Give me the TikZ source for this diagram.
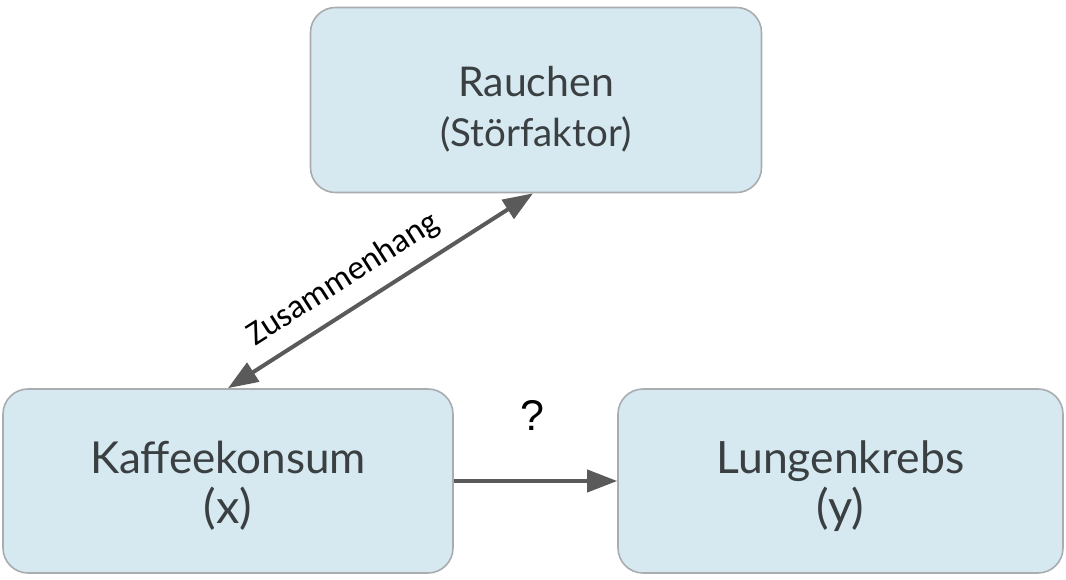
\documentclass[tikz,border=0pt]{standalone}
\usepackage{fontspec}
\setmainfont{Lato}
\newfontfamily\labelfont{Carlito}
\newfontfamily\qfont{Liberation Sans}
\usetikzlibrary{arrows.meta}
\definecolor{boxfill}{HTML}{D6E8F0}
\definecolor{boxdraw}{HTML}{A9ADAF}
\definecolor{txtcol}{HTML}{3A3F42}
\definecolor{arrcol}{HTML}{5A5A5A}
\tikzset{
  box/.style={draw=boxdraw, line width=1.6pt, fill=boxfill, rounded corners=25pt, inner sep=0pt},
  boxtext/.style={text=txtcol, align=center, inner sep=0pt, anchor=north, font=\fontsize{44}{50}\selectfont},
  conn/.style={draw=arrcol, line width=4pt, -{Triangle[length=30pt,width=22pt]}, shorten >=0pt},
  biconn/.style={draw=arrcol, line width=4pt, {Triangle[length=30pt,width=22pt]}-{Triangle[length=30pt,width=22pt]}},
}
\newcommand\lineA[2]{{\fontsize{#1}{50}\selectfont #2}}
\begin{document}
\begin{tikzpicture}[x=1pt,y=-1pt]
\useasboundingbox (0,0) rectangle (1066,580);
\node[box, minimum width=451pt, minimum height=185pt] (r) at (536,100) {};
\node[box, minimum width=450pt, minimum height=184pt] (k) at (228,481) {};
\node[box, minimum width=445pt, minimum height=184pt] (l) at (840.5,481) {};
\node[boxtext] (rt) at (536,66) {\lineA{41}{Rauchen}\\\lineA{38.5}{(Störfaktor)}};
\node[boxtext] (kt) at (228,441) {\lineA{44}{Kaffeekonsum}\\\lineA{47}{(x)}};
\node[boxtext] (lt) at (840.5,441) {\lineA{44.5}{Lungenkrebs}\\\lineA{47}{(y)}};
\draw[biconn] (k.north) -- ([xshift=-3pt]r.south)
  node[pos=0.43, sloped, above=13pt, inner sep=0pt, font=\labelfont\fontsize{34}{38}\selectfont, text=black] (za) {Zusammenhang};
\draw[conn] (k.east) -- (l.west)
  node[midway, xshift=-3pt, yshift=66pt, anchor=center, font=\qfont\fontsize{43}{46}\selectfont, text=black] (q) {?};
\end{tikzpicture}
\end{document}
